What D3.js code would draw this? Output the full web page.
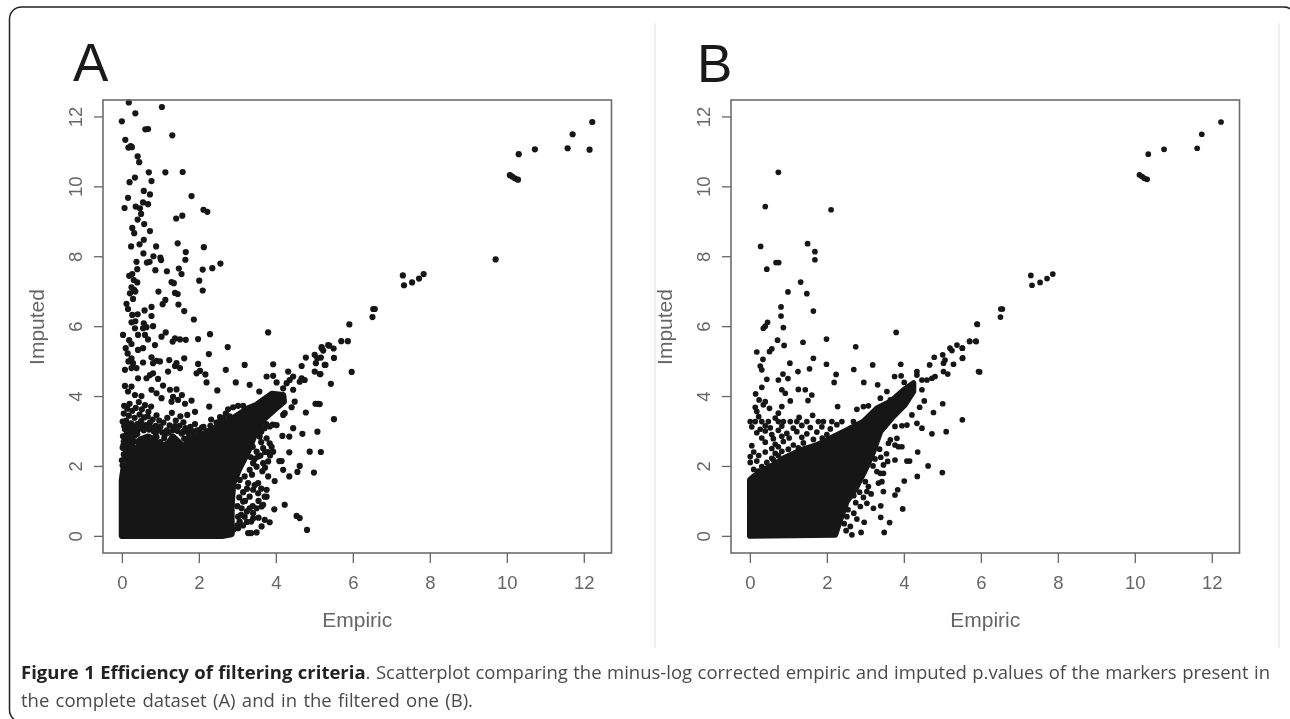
<!DOCTYPE html>
<html>
<head>
<meta charset="utf-8">
<script src="https://cdn.jsdelivr.net/npm/d3@7"></script>
<style>
  body { margin: 0; background: #fff; }
  svg { display: block; }
  text { font-family: "Liberation Sans", sans-serif; }
  .caption { font-family: "Open Sans", sans-serif; font-size: 18.5px; fill: #4a4a4a; }
  .caption .lead { font-weight: 700; fill: #222; }
</style>
</head>
<body>
<svg id="figure" width="1290" height="719">
  <defs>
    <filter id="soft" x="-5%" y="-5%" width="110%" height="110%">
      <feGaussianBlur stdDeviation="0.45"></feGaussianBlur>
    </filter>
  </defs>
</svg>
<script>
// tick labels and axis extents (R pads the data range by 4%)
const xTicks = [0, 2, 4, 6, 8, 10, 12];
const yTicks = [0, 2, 4, 6, 8, 10, 12];
const xDomain = [-0.49, 12.72];
const yDomain = [-0.49, 12.47];

// solid mass of overlapping markers, traced as [empiric, imputed]
const coreA = [[0,0],[0,1.6],[0.05,1.98],[0.25,1.98],[0.42,2.36],[0.47,2.75],[0.68,2.84],[0.83,2.76],[0.99,2.54],
  [1.2,2.65],[1.33,2.84],[1.46,2.7],[1.59,2.55],[1.81,2.75],[2.03,2.89],[2.37,3.03],[2.89,3.37],[3.28,3.65],
  [3.5,3.75],[3.89,4.06],[4.19,4.03],[4.21,3.84],[3.97,3.62],
  [3.67,3.32],[3.45,2.89],[3.28,2.41],[3.06,1.94],[2.89,1.5],[2.85,0.84],[2.85,0.05],[2.6,0]];
const coreB = [[0,0],[0,1.6],[0.1,1.7],[0.35,1.89],[0.61,2.03],[0.87,2.22],[1.31,2.45],[1.74,2.6],[2.09,2.79],
  [2.52,3.03],[2.95,3.27],[3.3,3.65],[3.65,3.84],[4,4.18],[4.25,4.37],[4.25,4.13],[4.03,3.75],[3.69,3.37],
  [3.39,2.98],[3.21,2.41],[3.04,1.98],[2.78,1.41],[2.52,0.98],[2.35,0.46],[2.22,0.03]];

// separate markers, [empiric, imputed]
const pointsA = [
  [0.18,12.4],[1.04,12.27],[0.35,12.09],[0,11.86],[0.61,11.63],[0.68,11.64],[1.31,11.46],[0.09,11.33],[0.23,11.15],
  [0.17,11.11],[0.26,11.12],[0.41,10.86],[0.45,10.69],[0.7,10.4],[1.13,10.4],[1.58,10.41],[0.77,10.15],[0.34,10.25],
  [0.2,10.12],[0.57,9.87],[0.73,9.77],[1.81,9.72],[0.16,9.67],[0.55,9.54],[0.68,9.49],[0.36,9.42],[0.47,9.37],
  [0.07,9.38],[2.12,9.33],[2.22,9.27],[0.5,9.21],[1.57,9.16],[1.41,9.08],[0.41,9.05],[0.58,8.92],[0.27,8.81],
  [0.73,8.72],[0.32,8.66],[0.57,8.47],[0.46,8.34],[1.45,8.37],[0.24,8.28],[0.89,8.28],[2.13,8.26],[1.66,8.12],
  [0.56,8.08],[0.82,8],[1,7.96],[1.02,7.89],[1.65,7.9],[0.38,7.84],[0.65,7.82],[0.72,7.84],[2.56,7.79],[2.35,7.66],
  [1.48,7.65],[2.1,7.62],[0.4,7.63],[0.87,7.6],[1.17,7.57],[1.55,7.49],[0.27,7.49],[0.19,7.44],[0.31,7.32],[0.4,7.25],
  [2.01,7.3],[1.29,7.26],[1.35,7.23],[0.25,7.11],[0.32,7.04],[0.21,6.94],[0.35,6.99],[0.29,6.78],[2.1,7.02],[0.95,6.99],
  [1.38,6.95],[1.45,6.92],[1.13,6.75],[1.06,6.63],[0.12,6.64],[0.16,6.49],[1.47,6.62],[0.77,6.55],[0.59,6.45],[1.62,6.43],
  [0.41,6.34],[0.27,6.32],[0.77,6.29],[1.87,6.19],[0.35,6.14],[0.25,6.11],[0.57,6.08],[0.81,6],[0.34,5.94],[0.55,5.94],
  [0.64,5.97],[3.8,5.82],[0.03,5.75],[2.29,5.77],[1.14,5.82],[1.03,5.7],[1.38,5.65],[1.32,5.56],[1.51,5.62],[1.66,5.61],
  [1.98,5.63],[0.19,5.6],[0.25,5.49],[0.42,5.75],[0.6,5.75],[0.68,5.62],[0.86,5.46],[2.75,5.4],[0.1,5.37],[0.15,5.22],
  [0.42,5.32],[0.55,5.37],[2.26,5.2],[0.25,5.08],[0.29,4.94],[0.17,4.99],[0.38,4.8],[0.25,4.8],[0.77,5.11],[0.9,5.01],
  [0.81,4.94],[0.99,4.99],[0.55,4.96],[1.23,5.03],[1.42,4.94],[1.51,4.8],[1.62,5.08],[1.38,4.86],[1.98,4.92],[3.19,4.89],
  [3.93,4.91],[0.08,4.75],[1.2,4.7],[2.03,4.72],[1.94,4.65],[2.17,4.62],[2.7,4.75],[3.76,4.56],[3.93,4.58],[0.42,4.51],
  [0.64,4.51],[0.73,4.6],[0.81,4.65],[0.94,4.49],[2.96,4.39],[2.2,4.39],[3.32,4.32],[4.02,4.39],[1.07,4.3],[0.77,4.18],
  [0.9,4.08],[1.03,3.94],[1.25,4.18],[1.42,4.19],[1.33,3.98],[2.48,4.16],[0.08,4.29],[0.25,4.27],[0.16,4.13],[0.34,4.03],
  [0.51,4],[3.57,4.13],[1.56,4.03],[1.46,3.89],[1.29,3.84],[1.81,3.87],[1.64,3.78],[2.27,3.7],[2.76,3.62],[2.89,3.68],
  [3.02,3.72],[3.15,3.72],[1.9,3.55],
  // diagonal arm
  [4.32,4.7],[4.45,4.56],[4.67,4.86],[4.78,5.1],[5.01,4.7],[5.14,4.63],[5.01,5.18],[5.08,5.08],[5.19,5.37],[5.36,5.46],
  [5.04,4.94],[5.27,4.89],[4.67,4.51],[4.75,4.46],[4.62,4.41],[4.45,4.18],[4.49,3.84],[4.41,3.68],[5.03,3.78],[5.1,3.78],
  [4.78,3.53],[4.45,3.08],[5.08,2.98],[4.69,2.92],[4.17,2.86],[4.35,2.84],[4.19,3.46],[4.88,2.41],[5.17,2.4],[4.35,2.39],
  [4.09,2.14],[4.15,2.14],[4.62,2],[4.56,1.83],[4.19,1.89],[4.35,1.7],[4.99,1.81],[3.97,1.57],[4.23,0.89],[3.96,0.76],
  [4.54,0.57],[4.62,0.51],[4.81,0.17],[3.84,0.39],[3.71,0.46],[3.63,0.27],[3.5,0.1],[3.28,0.08],[3.36,0.08],[3.76,1.12],[3.67,0.89],
  [3.41,0.65],[3.41,0.5],[4.19,4.22],[4.28,4.37],[4.36,4.46],[4.23,3.51],
  [12.22,11.84],[11.71,11.49],[11.58,11.09],[12.15,11.05],[10.73,11.06],[10.31,10.92],[10.08,10.32],[10.14,10.28],
  [10.21,10.23],[10.29,10.19],[9.71,7.91],[7.84,7.49],[7.72,7.36],[7.54,7.25],[7.33,7.17],[7.3,7.45],[6.57,6.49],
  [6.53,6.49],[6.51,6.26],[5.91,6.05],[5.7,5.57],[5.87,5.57],[5.39,5.44],[5.5,5.36],[5.19,5.4],[5.23,5.3],[5.51,5.09],
  [5.17,5.1],[5.29,4.89],[5.16,4.63],[5.97,4.69],[5.43,4.35],[5.51,3.34],[5.14,3.77],
  // fringe above the solid mass
  [0.06,3.72],[0.14,3.64],[0.05,3.5],[0.2,3.78],[0.27,3.58],[0.36,3.66],[0.44,3.83],[0.52,3.62],[0.6,3.74],[0.69,3.55],
  [0.76,3.7],[0.18,3.44],[0.33,3.38],[0.46,3.47],[0.58,3.39],[0.67,3.42],[0.8,3.33],[0.9,3.45],[0.02,3.27],[0.11,3.3],
  [0.24,3.22],[0.4,3.2],[0.5,3.28],[0.62,3.17],[0.73,3.24],[0.88,3.15],[0.97,3.3],[1.08,3.24],[1.18,3.38],[1.3,3.52],
  [1.24,3.16],[1.4,3.3],[1.52,3.42],[1.6,3.25],[1.7,3.46],[1.78,3.12],[1.65,3.08],[1.9,3.2],[2,3.02],[2.12,3.12],
  [2.22,3],[2.32,3.33],[2.46,3.24],[2.55,3.4],[2.7,3.5],[0.08,3.05],[0.2,3.08],[0.31,3.03],[0.44,3.06],[0.57,3.02],
  [0.7,3.04],[0.82,3],[0.94,3.03],[1.05,2.96],[1.17,3.02],[1.33,3.03],[1.45,3],[1.55,2.93],[1.72,2.95],[1.86,2.94],
  [0.03,2.85],[0.12,2.9],[0.22,2.82],[0.34,2.88],[0.05,2.7],[0.16,2.72],[0.26,2.62],[0.36,2.7],[0.42,2.55],[0.9,2.82],
  [1.1,2.8],[1.62,2.78],[1.75,2.82],[0.02,2.52],[0.12,2.46],[0.27,2.42],[0.05,2.33],[0.2,2.27],[0.32,2.3],[0,2.16],
  [0.14,2.12],[0.3,2.1],[0.02,2.02],[0.7,2.7],
  [0.1,2.6],[0.2,2.55],[0.3,2.52],[0.38,2.42],[0.1,2.38],[0.22,2.4],[0.34,2.18],[0.42,2.2],[0.08,2.22],[0.24,2.12],
  [0.1,2],[0.2,2.02],[0.04,2.6],[0.08,2.78],[0.28,2.75],[0.4,2.92],[0.48,3.12],[0.28,3.14],[0.16,3.18],[0.06,3.14],
  [0.14,2.98],[0.25,2.96],[0.36,3.12],[0.55,3.15],[0.66,3.1],[0.78,3.1],[0.88,2.92],[1,3.12],[1.12,2.9],[1.22,2.95],
  [1.38,3.14],[1.5,3.15],[1.6,2.98],[1.8,3.02],[1.95,3.02],[2.08,3.1],[2.3,3.15],[2.4,3.08],[2.55,3.28],[2.65,3.38],
  [2.8,3.42],[1,2.68],[0.95,2.6],[1.4,2.75],[1.7,2.7],
  // speckle to the right of the solid mass
  [3.58,2.84],[3.76,2.79],[3.89,2.55],[3.67,2.51],[3.93,2.41],[3.84,2.65],[4.02,3.17],[3.84,3.13],[3.71,3.08],[3.5,2.41],
  [3.54,2.27],[3.41,2.08],[3.67,2.08],[3.8,2.13],[3.5,1.98],[3.32,1.89],[3.19,1.7],[3.06,1.6],[3.02,1.41],[3.28,1.51],
  [3.54,1.51],[3.41,1.32],[3.54,1.22],[3.32,1.12],[3.71,1.12],[3.8,1.7],[3.76,1.32],[3.63,0.84],[3.15,0.98],[3.11,0.79],
  [3.32,0.79],[3.5,0.79],[3.02,0.55],[3.19,0.55],[3.36,0.41],[3.06,0.41],[2.89,0.17],[3.02,0.22],
  [3.35,2.72],[3.45,2.95],[3.55,3.05],[3.62,2.98],[3.75,3.2],[3.92,3.18],[3.4,2.55],[3.62,2.68],[3.72,2.4],[3.8,2.4],
  [3.85,2.3],[3.6,2.3],[3.45,2.2],[3.35,2.25],[3.65,1.85],[3.72,1.95],[3.38,1.75],[3.25,1.35],[3.15,1.25],[3.45,1.45],
  [3.62,1.35],[3.2,1],[3.05,1.1],[3,0.85],[3.25,0.7],[3.4,0.85],[3.55,1],[3.1,0.6],[3.25,0.4],[3.55,0.52],[3.15,0.3],[3,0.3]
];
const pointsB = [
  [0.74,10.4],[0.4,9.42],[2.11,9.33],[0.28,8.28],[1.5,8.36],[1.69,8.13],[1.69,7.9],[0.68,7.82],[0.75,7.82],[0.44,7.63],
  [1.32,7.26],[0.99,6.98],[1.48,6.93],[0.81,6.55],[0.81,6.29],[1.65,6.43],[0.46,6.11],[0.35,5.94],[0.4,6],[0.87,5.96],
  [5.9,6.06],[3.8,5.82],[0.72,5.6],[0.89,5.45],[1.38,5.54],[1.99,5.63],[2.75,5.41],[0.18,5.26],[0.57,5.35],[0.51,5.27],
  [0.34,5.05],[1.65,5.08],[1.04,4.94],[1.99,4.91],[3.19,4.89],[3.92,4.91],[0.27,4.86],[0.31,4.75],[1.55,4.78],[1.25,4.7],
  [2.7,4.76],[2.24,4.62],[0.86,4.63],[3.76,4.56],[3.93,4.58],[0.99,4.5],[0.74,4.46],[0.44,4.48],[2.19,4.39],[2.96,4.39],
  [3.32,4.32],[4.01,4.39],[0.31,4.25],[0.83,4.18],[0.92,4.08],[1.05,3.86],[1.26,4.19],[1.44,4.18],[0.15,4.06],[3.56,4.13],
  [1.61,4.03],[1.51,3.87],[0.24,3.89],[0.4,3.84],[0.35,3.75],[0.51,3.65],[0.14,3.68],[0.18,3.56],[0.23,3.41],[0.83,3.7],
  [0.74,3.51],[0.66,3.37],[2.28,3.7],[1.63,3.45],[1.28,3.39],[2.78,3.62],[2.95,3.7],[3.08,3.72],[3.39,3.94],[3.65,3.89],
  // fringe above the solid mass
  [0.01,3.27],[0.14,3.27],[0.31,3.27],[0.48,3.27],[0.74,3.27],[0.87,3.27],[1.05,3.27],[1.22,3.27],[1.48,3.27],[1.78,3.27],
  [1.91,3.27],[2.13,3.27],[2.39,3.27],[2.69,3.27],[0.05,3.12],[0.27,3.05],[0.4,3.15],[0.53,3.09],[0.83,3.14],[1.13,3.08],
  [1.35,3.16],[1.57,3.1],[1.87,3.12],[2.09,3.06],[2.26,3.18],[0.18,2.95],[0.4,3],[0.57,2.9],[0.74,3.02],[0.96,2.93],
  [1.22,2.98],[1.48,2.92],[1.74,2.97],[2,2.9],[0.31,2.8],[0.61,2.78],[0.83,2.85],[1.02,2.8],[1.35,2.82],[1.65,2.76],
  [1.88,2.8],[0.4,2.68],[0.66,2.62],[0.87,2.7],[1.13,2.6],[1.39,2.66],[0.05,2.58],[0.57,2.5],[0.74,2.55],[1,2.48],
  [1.26,2.52],[0.4,2.4],[0.66,2.36],[0.83,2.42],[0.01,2.27],[0.23,2.3],[0.1,2.4],[0.57,2.22],[0.74,2.3],[0.01,2.1],
  [0.18,2.14],[0.44,2.1],[0.61,2.18],[0.1,1.9],[0.31,1.98],[0.22,1.85],
  // speckle to the right, then the diagonal arm
  [3.37,2.48],[3.6,2.65],[3.77,2.6],[3.86,2.55],[3.95,2.55],[3.77,3.13],[3.95,3.15],[4.08,3.17],[3.82,2.79],[3.65,2.75],
  [4.34,3.22],[4.47,3.08],[4.73,2.92],[5.1,2.98],[5.52,3.32],[5.01,3.78],[4.77,3.53],[4.53,3.86],[4.41,3.68],[4.21,3.46],
  [4.47,4.18],[4.36,2.4],[4.08,2.14],[4.15,2.14],[3.77,2.17],[3.58,2.13],[3.47,2.03],[4.63,2],[5,1.81],[4.35,1.7],
  [4.01,1.57],[3.84,1.32],[3.77,1.17],[3.34,1.51],[3.43,1.55],[3.3,1.84],[3.39,1.79],[3.47,1.79],[3.47,1.27],[3.08,1.41],
  [3.04,1.27],[3.97,0.77],[3.4,0.86],[3.21,0.79],[3.04,0.93],[2.87,0.84],[3.4,0.53],[3.63,0.38],[3.49,0.1],[2.97,0.39],
  [2.78,0.48],[2.89,0.1],[2.65,0.03],[2.61,0.27],[2.52,0.55],[4.34,4.6],[4.47,4.46],[4.6,4.46],[4.73,4.51],[4.81,4.56],
  [4.34,4.7],[4.67,4.89],[4.79,5.11],[5.03,4.7],[5.14,4.63],[5.01,5.18],[5.07,5.03],[5.2,5.37],[5.25,5.3],[5.38,5.46],
  [5.52,5.37],[5.71,5.56],[5.88,5.56],[5.03,4.94],[5.29,4.91],[5.52,5.08],[5.94,4.7],
  [2.9,1.75],[3,1.55],[2.85,1.25],[2.95,1.1],[3.15,1.2],[2.7,1.15],[2.75,0.95],[2.55,0.75],[2.7,0.65],[2.45,0.35],
  [2.5,0.15],[3.2,2],[3.25,2.2],[3.55,2.35],[3.4,2.25],
  [12.24,11.84],[11.74,11.49],[11.62,11.09],[10.76,11.06],[10.35,10.92],[10.12,10.33],[10.19,10.28],[10.25,10.23],
  [10.32,10.2],[7.87,7.49],[7.72,7.36],[7.54,7.25],[7.33,7.17],[7.3,7.45],[6.56,6.49],[6.52,6.49],[6.51,6.26],[5.91,6.05],
  [5.71,5.57],[5.87,5.57],[5.52,5.37],[5.53,5.09],[5.97,4.69]
];

const svg = d3.select("#figure");
const plotW = 508.5;
const plotH = 453;

// outer frame, runs off the bottom and right of the page
svg.append("rect")
  .attr("x", 9.5).attr("y", 7)
  .attr("width", 1286.5).attr("height", 715)
  .attr("rx", 12)
  .attr("fill", "none").attr("stroke", "#222").attr("stroke-width", 1.5);

// faint panel separators
[655, 1279].forEach(x => {
  svg.append("line")
    .attr("x1", x).attr("x2", x).attr("y1", 23).attr("y2", 648)
    .attr("stroke", "#e9e9e9").attr("stroke-width", 1.5);
});

function drawPanel(letter, letterX, letterY, left, points, core, dotR) {
  const top = 100;
  const g = svg.append("g")
    .attr("transform", `translate(${left},${top})`)
    .attr("filter", "url(#soft)");

  const x = d3.scaleLinear().domain(xDomain).range([0, plotW]);
  const y = d3.scaleLinear().domain(yDomain).range([plotH, 0]);

  svg.append("text")
    .attr("x", letterX).attr("y", letterY)
    .attr("font-size", 53).attr("fill", "#1a1a1a")
    .text(letter);

  // Markers
  const outline = d3.line().x(d => x(d[0])).y(d => y(d[1]));
  g.append("path")
    .attr("d", outline(core) + "Z")
    .attr("fill", "#141516").attr("stroke", "#141516")
    .attr("stroke-width", dotR * 2).attr("stroke-linejoin", "round");

  g.selectAll("circle")
    .data(points)
    .enter()
    .append("circle")
    .attr("cx", d => x(d[0]))
    .attr("cy", d => y(d[1]))
    .attr("r", dotR)
    .attr("fill", "#141516");

  // Box
  g.append("rect")
    .attr("width", plotW).attr("height", plotH)
    .attr("fill", "none").attr("stroke", "#6f6b6b").attr("stroke-width", 1.6);

  // Axes
  const xAxis = g.append("g")
    .attr("transform", `translate(0,${plotH})`)
    .call(d3.axisBottom(x).tickValues(xTicks).tickSize(10).tickSizeOuter(0));
  xAxis.select(".domain").remove();
  xAxis.selectAll("line").attr("stroke", "#666").attr("stroke-width", 1.3);
  xAxis.selectAll("text")
    .attr("y", 35.5).attr("dy", 0)
    .attr("font-size", 18.5).attr("fill", "#666");

  const yAxis = g.append("g")
    .call(d3.axisLeft(y).tickValues(yTicks).tickSize(9).tickSizeOuter(0));
  yAxis.select(".domain").remove();
  yAxis.selectAll("line").attr("stroke", "#666").attr("stroke-width", 1.3);
  yAxis.selectAll("text")
    .attr("transform", "rotate(-90)")
    .attr("x", 0).attr("y", -21).attr("dy", 0)
    .attr("text-anchor", "middle")
    .attr("font-size", 18.5).attr("fill", "#666");

  // Axis labels
  g.append("text")
    .attr("x", plotW / 2).attr("y", 527)
    .attr("text-anchor", "middle")
    .attr("font-size", 21).attr("fill", "#666")
    .text("Empiric");

  g.append("text")
    .attr("transform", `translate(-59,227) rotate(-90)`)
    .attr("text-anchor", "middle")
    .attr("font-size", 21).attr("fill", "#666")
    .text("Imputed");
}

drawPanel("A", 73, 81, 103, pointsA, coreA, 3.1);
drawPanel("B", 697, 82, 731, pointsB, coreB, 2.85);

// Caption: spaces are stretched so each line ends where it does in the journal layout
function fitLine(textSel, width, gaps) {
  const extra = (width - textSel.node().getComputedTextLength()) / gaps;
  textSel.style("word-spacing", `${extra}px`);
}

const line1 = svg.append("text").attr("class", "caption").attr("x", 21).attr("y", 679);
line1.append("tspan").attr("class", "lead").text("Figure 1 Efficiency of filtering criteria");
line1.append("tspan").text(". Scatterplot comparing the minus-log corrected empiric and imputed p.values of the markers present in");
fitLine(line1, 1249, 19);

const line2 = svg.append("text").attr("class", "caption").attr("x", 21).attr("y", 707)
  .text("the complete dataset (A) and in the filtered one (B).");
fitLine(line2, 452, 9);
</script>
</body>
</html>
